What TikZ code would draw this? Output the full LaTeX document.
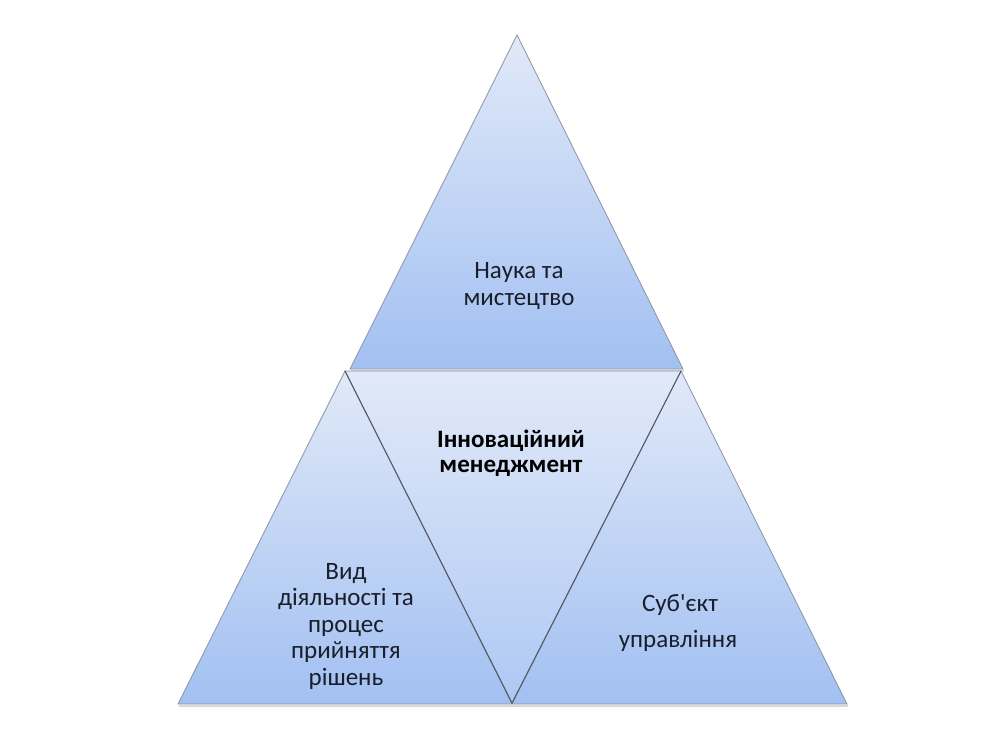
\documentclass[tikz,border=0pt]{standalone}
\usepackage{fontspec}
\newfontfamily\calfont{Carlito}
\begin{document}
\begin{tikzpicture}[x=1pt,y=-1pt,
  tri/.style={top color=tritop,bottom color=tribot,draw=triedge,line width=0.8pt,line join=miter},
  shadowline/.style={draw=black!30,line width=2pt,opacity=0.5},
  lbl/.style={font=\calfont\fontsize{25}{26.5}\selectfont,text=txt,align=center,inner sep=0pt},
  blbl/.style={lbl,font=\calfont\fontsize{25}{25.5}\selectfont\bfseries,text=black}]
\definecolor{tritop}{HTML}{E1E9F8}
\definecolor{tribot}{HTML}{A2C0F2}
\definecolor{triedge}{HTML}{8A93A3}
\definecolor{midedge}{HTML}{4E5566}
\definecolor{txt}{HTML}{1A1E2A}
\useasboundingbox (0,0) rectangle (987,747);
% corners
\coordinate (tA) at (517,35);
\coordinate (tL) at (350,369);
\coordinate (tR) at (683,369);
\coordinate (lA) at (345,371);
\coordinate (lL) at (178,704);
\coordinate (lR) at (512,704);
\coordinate (rA) at (681,371);
\coordinate (rL) at (512,704);
\coordinate (rR) at (847,704);
\coordinate (mA) at (512,703);
% shadows
\draw[shadowline] ([shift={(1,2)}]tL) -- ([shift={(1,2)}]tR);
\draw[shadowline] ([shift={(1,2)}]lL) -- ([shift={(1,2)}]rR);
% triangles
\shade[tri] (tA) -- (tR) -- (tL) -- cycle;
\shade[tri] (lA) -- (lR) -- (lL) -- cycle;
\shade[tri] (rA) -- (rR) -- (rL) -- cycle;
\shade[top color=tritop,bottom color=tribot!80!tritop,draw=triedge,line width=0.8pt] (lA) -- (rA) -- (mA) -- cycle;
\draw[midedge,line width=0.9pt] (lA) -- (mA) -- (rA);
% labels
\node[lbl] (science) at (519,286) {Наука та\\мистецтво};
\node[blbl] (innov) at (511,453) {Інноваційний\\менеджмент};
\node[lbl] (activity) at (346,626) {Вид\\діяльності та\\процес\\прийняття\\рішень};
\node[lbl] (subj1) at (680,605) {Суб'єкт};
\node[lbl] (subj2) at (678,641) {управління};
\end{tikzpicture}
\end{document}
